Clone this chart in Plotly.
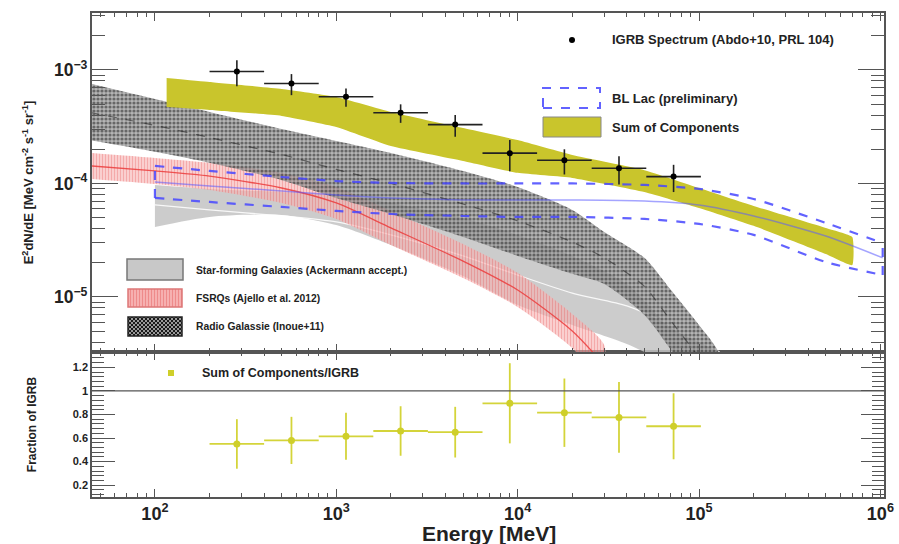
import base64
import plotly.graph_objects as go

# ---- IGRB spectrum (Abdo+10) ----
e_lo = [200, 400, 800, 1600, 3200, 6400, 12800, 25600, 51200]
e_hi = [400, 800, 1600, 3200, 6400, 12800, 25600, 51200, 102400]
e_mid = [283, 566, 1131, 2263, 4525, 9051, 18102, 36204, 72408]
igrb = [9.7e-4, 7.6e-4, 5.8e-4, 4.2e-4, 3.3e-4, 1.85e-4, 1.6e-4, 1.36e-4, 1.15e-4]
igrb_err = [2.5e-4, 1.6e-4, 1.07e-4, 0.78e-4, 0.72e-4, 0.57e-4, 0.4e-4, 0.38e-4, 0.31e-4]

# ---- sum of components / IGRB ----
frac = [0.55, 0.58, 0.615, 0.66, 0.65, 0.895, 0.815, 0.775, 0.70]
frac_err = [0.21, 0.20, 0.20, 0.21, 0.215, 0.34, 0.29, 0.30, 0.28]

# ---- radio galaxies (Inoue+11) ----
rg_e = [44, 100, 200, 500, 1000, 2000, 5000, 1e4, 2e4, 3e4, 5e4, 7e4, 1e5, 1.3e5]
rg_hi = [7.6e-4, 5.55e-4, 4.27e-4, 3.02e-4, 2.37e-4, 1.86e-4, 1.29e-4, 9.3e-5, 5.85e-5,
         3.74e-5, 2.21e-5, 1.15e-5, 5.66e-6, 3.08e-6]
rg_lo = [2.4e-4, 1.9e-4, 1.52e-4, 1.07e-4, 7.45e-5, 5.38e-5, 3.38e-5, 2.3e-5, 1.6e-5,
         1.3e-5, 6.93e-6, 3.41e-6, 1.52e-6, 8.2e-7]
rg_mid = [4.22e-4, 3.25e-4, 2.54e-4, 1.8e-4, 1.33e-4, 1.0e-4, 6.59e-5, 4.68e-5, 3.05e-5,
          2.21e-5, 1.24e-5, 6.15e-6, 2.93e-6, 1.6e-6]

# ---- FSRQs (Ajello et al. 2012) ----
fs_e = [44, 100, 200, 500, 1000, 2000, 5000, 1e4, 2e4, 3e4]
fs_hi = [1.86e-4, 1.68e-4, 1.52e-4, 1.24e-4, 9.31e-5, 5.73e-5, 2.93e-5, 1.63e-5, 7.08e-6, 3.78e-6]
fs_mid = [1.43e-4, 1.29e-4, 1.16e-4, 9.12e-5, 6.73e-5, 4.06e-5, 2.07e-5, 1.15e-5, 5.01e-6, 2.52e-6]
fs_lo = [1.1e-4, 9.9e-5, 8.77e-5, 6.73e-5, 4.87e-5, 2.87e-5, 1.47e-5, 8.17e-6, 3.55e-6, 1.68e-6]

# ---- star-forming galaxies ----
sf_e = [100, 200, 500, 1000, 2000, 5000, 1e4, 2e4, 4e4, 7e4, 1.3e5]
sf_hi = [9.7e-5, 8.95e-5, 8.42e-5, 7.92e-5, 6.73e-5, 4.97e-5, 3.52e-5, 2.3e-5, 1.3e-5, 5.33e-6, 3.08e-6]
sf_lo = [4.14e-5, 5.07e-5, 5.28e-5, 4.3e-5, 2.87e-5, 1.53e-5, 8.5e-6, 5.66e-6, 3.85e-6, 2.52e-6, 1.52e-6]
sf_mid = [6.47e-5, 5.85e-5, 5.17e-5, 4.58e-5, 3.52e-5, 2.3e-5, 1.56e-5, 1.08e-5, 8.34e-6, 5.66e-6, 3.27e-6]

# ---- sum of components ----
sum_e = [116, 200, 500, 1000, 2000, 5000, 1e4, 2e4, 5e4, 1e5, 2e5, 5e5, 7e5]
sum_hi = [8.5e-4, 7.84e-4, 6.8e-4, 5.78e-4, 4.27e-4, 3.08e-4, 2.41e-4, 1.78e-4, 1.31e-4,
          9.12e-5, 6.34e-5, 4.06e-5, 3.38e-5]
sum_lo = [4.72e-4, 4.45e-4, 3.94e-4, 3.15e-4, 2.14e-4, 1.58e-4, 1.24e-4, 1.12e-4, 8.42e-5,
          6.08e-5, 4.23e-5, 2.39e-5, 1.91e-5]

# ---- BL Lac (preliminary) ----
bl_e = [100, 200, 500, 1000, 2000, 5000, 1e4, 2e4, 5e4, 1e5, 2e5, 5e5, 1.03e6]
bl_hi = [1.43e-4, 1.29e-4, 1.14e-4, 1.05e-4, 1.01e-4, 1.0e-4, 1.0e-4, 1.0e-4, 9.7e-5,
         8.95e-5, 7.3e-5, 4.49e-5, 2.99e-5]
bl_lo = [7.45e-5, 6.87e-5, 6.21e-5, 5.73e-5, 5.38e-5, 5.17e-5, 5.07e-5, 5.07e-5, 4.87e-5,
         4.4e-5, 3.52e-5, 2.03e-5, 1.56e-5]
bl_mid = [1.03e-4, 9.5e-5, 8.59e-5, 7.92e-5, 7.45e-5, 7.16e-5, 7.16e-5, 7.16e-5, 7.02e-5,
          6.47e-5, 5.17e-5, 3.44e-5, 2.21e-5]

# the page's body margin is removed below, so the figure fills the window
W, H = 899, 544
ML, MR, MT, MB = 92, 15, 13, 47
PW, PH = W - ML - MR, H - MT - MB
SPLIT = 145 / PH
FONT = "Liberation Sans, Arial, sans-serif"
TXT = "#222"
AX = "#555"
YEL = "#c9c52c"
BLUE = "rgba(70,70,255,0.85)"


def px(x):
    return (x - ML) / PW


def py(y):
    return (H - MB - y) / PH


def band(e, hi, lo):
    return list(e) + list(e)[::-1], list(hi) + list(lo)[::-1]


fig = go.Figure()
top = dict(xaxis="x2", yaxis="y2", showlegend=False, hoverinfo="skip")
smooth = dict(shape="spline", smoothing=0.7)

x, y = band(sf_e, sf_hi, sf_lo)
fig.add_trace(go.Scatter(x=x, y=y, fill="toself", fillcolor="rgba(195,195,195,0.85)",
                         line=dict(width=0, **smooth), mode="lines", **top))
fig.add_trace(go.Scatter(x=sf_e, y=sf_mid, mode="lines",
                         line=dict(color="rgba(255,255,255,0.85)", width=1.3, **smooth), **top))

x, y = band(fs_e, fs_hi, fs_lo)
fig.add_trace(go.Scatter(x=x, y=y, fill="toself", fillcolor="rgba(246,170,170,0.6)",
                         fillpattern=dict(shape="|", fgcolor="rgba(230,70,70,0.55)",
                                          bgcolor="rgba(246,175,175,0.6)", size=3, solidity=0.35),
                         line=dict(width=0, **smooth), mode="lines", **top))
fig.add_trace(go.Scatter(x=fs_e, y=fs_mid, mode="lines",
                         line=dict(color="rgba(235,60,60,0.85)", width=1.3, **smooth), **top))

x, y = band(rg_e, rg_hi, rg_lo)
fig.add_trace(go.Scatter(x=x, y=y, fill="toself", fillcolor="rgba(120,120,120,0.7)",
                         fillpattern=dict(shape=".", fgcolor="#1a1a1a",
                                          bgcolor="rgba(155,155,155,0.75)", size=4, solidity=0.5),
                         line=dict(width=0, **smooth), mode="lines", **top))
fig.add_trace(go.Scatter(x=rg_e, y=rg_mid, mode="lines",
                         line=dict(color="rgba(30,30,30,0.55)", width=1.2, dash="dash", **smooth),
                         **top))

x, y = band(sum_e, sum_hi, sum_lo)
fig.add_trace(go.Scatter(x=x, y=y, fill="toself", fillcolor=YEL,
                         line=dict(width=0, shape="spline", smoothing=0.4), mode="lines", **top))

# BL Lac: centre line and dashed envelope
fig.add_trace(go.Scatter(x=bl_e, y=bl_mid, mode="lines",
                         line=dict(color="rgba(90,90,255,0.55)", width=1.5, **smooth), **top))
for edge in (bl_hi, bl_lo):
    fig.add_trace(go.Scatter(x=bl_e, y=edge, mode="lines",
                             line=dict(color=BLUE, width=2.2, dash="dash", **smooth), **top))
for i in (0, -1):
    fig.add_trace(go.Scatter(x=[bl_e[i], bl_e[i]], y=[bl_lo[i], bl_hi[i]], mode="lines",
                             line=dict(color=BLUE, width=2.2, dash="dash"), **top))

fig.add_trace(go.Scatter(
    x=e_mid, y=igrb, mode="markers",
    marker=dict(color="black", size=6),
    error_x=dict(type="data", symmetric=False,
                 array=[h - m for h, m in zip(e_hi, e_mid)],
                 arrayminus=[m - l for m, l in zip(e_mid, e_lo)],
                 color="#222", thickness=1.6, width=0),
    error_y=dict(type="data", array=igrb_err, color="#222", thickness=1.6, width=0),
    **top))

# bottom panel
fig.add_trace(go.Scatter(
    x=e_mid, y=frac, mode="markers", showlegend=False, hoverinfo="skip",
    marker=dict(color="#cfcf2a", size=7),
    error_x=dict(type="data", symmetric=False,
                 array=[h - m for h, m in zip(e_hi, e_mid)],
                 arrayminus=[m - l for m, l in zip(e_mid, e_lo)],
                 color="#d4d43a", thickness=1.8, width=0),
    error_y=dict(type="data", array=frac_err, color="#d4d43a", thickness=1.8, width=0),
    xaxis="x", yaxis="y"))

fig.add_shape(type="line", xref="x domain", yref="y", x0=0, x1=1, y0=1, y1=1,
              line=dict(color="#555", width=1.3))

xcommon = dict(type="log", range=[1.653, 6.02], dtick=1, exponentformat="power",
               ticks="inside", ticklen=8, tickcolor=AX, mirror="allticks", showline=True,
               linecolor=AX, linewidth=1.5, showgrid=False, zeroline=False, automargin=False,
               minor=dict(ticks="inside", ticklen=4, dtick="D1", tickcolor=AX, showgrid=False))
fig.update_layout(
    width=W, height=H,
    margin=dict(l=ML, r=MR, t=MT, b=MB),
    paper_bgcolor="white", plot_bgcolor="white",
    font=dict(family=FONT, color=TXT),
    xaxis=dict(domain=[0, 1], anchor="y", tickfont=dict(size=14.5, weight="bold", color=TXT),
               **xcommon),
    xaxis2=dict(domain=[0, 1], anchor="y2", matches="x", showticklabels=False, **xcommon),
    yaxis=dict(domain=[0, SPLIT], anchor="x", range=[0.1, 1.33], tick0=0.2, dtick=0.2,
               ticks="inside", ticklen=23, tickcolor=AX, mirror="allticks", showline=True,
               linecolor=AX, linewidth=1.5, showgrid=False, zeroline=False, automargin=False,
               minor=dict(ticks="inside", ticklen=12, dtick=0.04, tickcolor=AX, showgrid=False),
               tickfont=dict(size=11, weight="bold", color=TXT),
               title=dict(text="Fraction of IGRB", font=dict(size=12, weight="bold", color=TXT),
                          standoff=34)),
    yaxis2=dict(domain=[SPLIT, 1], anchor="x2", type="log", range=[-5.485, -2.498], dtick=1,
                exponentformat="power", ticks="inside", ticklen=26, tickcolor=AX,
                mirror="allticks", showline=True, linecolor=AX, linewidth=1.5,
                showgrid=False, zeroline=False, automargin=False,
                minor=dict(ticks="inside", ticklen=13, dtick="D1", tickcolor=AX, showgrid=False),
                tickfont=dict(size=14, weight="bold", color=TXT),
                title=dict(text="E<sup>2</sup>dN/dE [MeV cm<sup>-2</sup> s<sup>-1</sup> sr<sup>-1</sup>]",
                           font=dict(size=13, weight="bold", color=TXT), standoff=17)),
)

fig.add_annotation(text="<b>Energy [MeV]</b>", xref="paper", yref="paper",
                   x=px(489), y=py(533), showarrow=False, font=dict(size=21, color=TXT),
                   xanchor="center", yanchor="middle")


def legend_text(x, y, text, size=13):
    fig.add_annotation(text="<b>%s</b>" % text, xref="paper", yref="paper", x=px(x), y=py(y),
                       showarrow=False, xanchor="left", yanchor="middle",
                       font=dict(size=size, color=TXT))


def rect(x0, y0, x1, y1, **kw):
    fig.add_shape(type="rect", xref="paper", yref="paper", x0=px(x0), x1=px(x1),
                  y0=py(y1), y1=py(y0), **kw)


def svg_img(svg, x0, y0, x1, y1):
    src = "data:image/svg+xml;base64," + base64.b64encode(svg.encode()).decode()
    fig.add_layout_image(source=src, xref="paper", yref="paper", x=px(x0), y=py(y0),
                         sizex=px(x1) - px(x0), sizey=py(y0) - py(y1), sizing="stretch",
                         xanchor="left", yanchor="top", layer="above")


# IGRB legend
fig.add_shape(type="circle", xref="paper", yref="paper", x0=px(569), x1=px(575),
              y0=py(43), y1=py(37), fillcolor="black", line=dict(width=0))
legend_text(610, 40, "IGRB Spectrum (Abdo+10, PRL 104)")

# BL Lac / sum legend
rect(543, 88, 600, 108, line=dict(color=BLUE, width=2, dash="dash"))
legend_text(610, 98, "BL Lac (preliminary)")
rect(543, 117, 601, 137, fillcolor=YEL, line=dict(color="#888", width=1))
legend_text(610, 127, "Sum of Components")

# source-class legend
rect(127, 259, 183, 280, fillcolor="#c8c8c8", line=dict(color="#777", width=1.5))
legend_text(194, 270, "Star-forming Galaxies (Ackermann accept.)", 10.3)
pink_svg = ('<svg xmlns="http://www.w3.org/2000/svg" width="56" height="20">'
            '<defs><pattern id="p" width="3" height="3" patternUnits="userSpaceOnUse">'
            '<rect width="3" height="3" fill="#f6b0b0"/><rect width="1" height="3" fill="#ee8a8a"/>'
            '</pattern></defs><rect x="1" y="1" width="54" height="18" fill="url(#p)" '
            'stroke="#d77" stroke-width="1.5"/></svg>')
svg_img(pink_svg, 127, 288, 183, 308)
legend_text(194, 298, "FSRQs (Ajello et al. 2012)", 10.3)
chk_svg = ('<svg xmlns="http://www.w3.org/2000/svg" width="56" height="21">'
           '<defs><pattern id="c" width="4" height="4" patternUnits="userSpaceOnUse">'
           '<rect width="4" height="4" fill="#9a9a9a"/><rect width="2" height="2" fill="#1a1a1a"/>'
           '<rect x="2" y="2" width="2" height="2" fill="#1a1a1a"/></pattern></defs>'
           '<rect x="1" y="1" width="54" height="19" fill="url(#c)" stroke="#222" '
           'stroke-width="1.5"/></svg>')
svg_img(chk_svg, 127, 316, 183, 337)
legend_text(194, 326, "Radio Galassie (Inoue+11)", 10.3)

# fraction legend
rect(168, 370, 174, 376, fillcolor="#cfcf2a", line=dict(width=0))
legend_text(200, 373, "Sum of Components/IGRB", 12.5)

fig.write_html("out.html", config={"displayModeBar": False},
               post_script="document.body.style.margin='0';document.body.style.overflow='hidden';")
